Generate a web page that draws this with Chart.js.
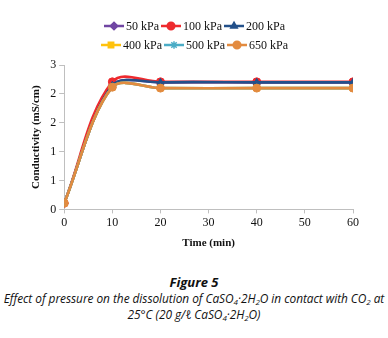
<!DOCTYPE html>
<html>
<head>
<meta charset="utf-8">
<script src="https://cdn.jsdelivr.net/npm/chart.js@4/dist/chart.umd.min.js"></script>
<style>
  body { margin: 0; background: #fff; width: 388px; height: 338px; overflow: hidden; position: relative; }
  #wrap { position: absolute; left: 0; top: 0; width: 388px; height: 262px; }
  #caption { position: absolute; left: 0; top: 274px; width: 388px; text-align: center;
             font-family: "Open Sans", "Noto Sans", sans-serif; font-style: italic; font-size: 11.9px;
             line-height: 16px; color: #111; letter-spacing: -0.05px; white-space: nowrap; }
  #caption b { font-size: 13px; letter-spacing: 0; }
  sub { font-size: 8px; vertical-align: -2px; line-height: 0; }
</style>
</head>
<body>
<div id="wrap"><canvas id="chart"></canvas></div>
<div id="caption">
  <b>Figure 5</b><br>
  Effect of pressure on the dissolution of CaSO<sub>4</sub>·2H<sub>2</sub>O in contact with CO<sub>2</sub> at<br>
  25°C (20 g/ℓ CaSO<sub>4</sub>·2H<sub>2</sub>O)
</div>
<script>
// time points (min)
const times = [0, 10, 20, 40, 60];

// conductivity (mS/cm) per pressure
const p50  = [0.13, 2.58, 2.64, 2.64, 2.64];
const p100 = [0.13, 2.65, 2.65, 2.65, 2.65];
const p200 = [0.13, 2.58, 2.64, 2.64, 2.64];
const p400 = [0.13, 2.54, 2.52, 2.52, 2.52];
const p500 = [0.13, 2.54, 2.52, 2.52, 2.52];
const p650 = [0.13, 2.54, 2.52, 2.52, 2.52];

const seriesNames = ['50 kPa', '100 kPa', '200 kPa', '400 kPa', '500 kPa', '650 kPa'];
const seriesValues = [p50, p100, p200, p400, p500, p650];

// y axis: Excel shows 0.6 steps with rounded labels
const yTicks = [0, 0.6, 1.2, 1.8, 2.4, 3];
const yTickLabels = ['0', '1', '1', '2', '2', '3'];
const xTicks = [0, 10, 20, 30, 40, 50, 60];

const colors  = ['#7046A3', '#EE2A2E', '#23508A', '#FFC20E', '#4BACC6', '#E38B3F'];
const markers = ['rectRot', 'circle', 'triangle', 'rect', 'star', 'circle'];
const tensions = [0.3, 0.36, 0.3, 0.32, 0.32, 0.32];

const serif = '"Liberation Serif", "Times New Roman", serif';

// legend drawn like the Excel one: short line with marker, two rows of three
const legendRows = [[0, 1, 2], [3, 4, 5]];
const excelLegend = {
    id: 'excelLegend',
    afterDraw(chart) {
        const ctx = chart.ctx;
        ctx.save();
        ctx.font = '12px ' + serif;
        ctx.textBaseline = 'middle';
        const lineLen = 20, gap = 2;
        legendRows.forEach((row, r) => {
            const y = 26 + r * 19;
            const widths = row.map(i => lineLen + gap + ctx.measureText(seriesNames[i]).width + gap);
            let x = 195.5 - widths.reduce((a, b) => a + b, 0) / 2;
            row.forEach((i, k) => {
                ctx.strokeStyle = colors[i];
                ctx.fillStyle = colors[i];
                ctx.lineWidth = 2.5;
                ctx.beginPath();
                ctx.moveTo(x, y);
                ctx.lineTo(x + lineLen, y);
                ctx.stroke();
                ctx.lineWidth = 1.5;
                Chart.helpers.drawPoint(ctx, { pointStyle: markers[i], radius: 3.8, borderWidth: 1.5, rotation: 0 }, x + lineLen / 2, y);
                ctx.fillStyle = '#111';
                ctx.fillText(seriesNames[i], x + lineLen + gap, y + 0.5);
                x += widths[k];
            });
        });
        ctx.restore();
    }
};

const datasets = seriesValues.map((vals, i) => ({
    label: seriesNames[i],
    data: times.map((t, j) => ({ x: t, y: vals[j] })),
    borderColor: colors[i],
    backgroundColor: colors[i],
    borderWidth: 2.6,
    pointStyle: markers[i],
    pointRadius: 4,
    pointBorderWidth: 1,
    tension: tensions[i],
    order: 6 - i
}));

const axisGrey = '#BFBFBF';

new Chart(document.getElementById('chart'), {
    type: 'line',
    data: { datasets: datasets },
    options: {
        responsive: true,
        maintainAspectRatio: false,
        animation: false,
        layout: { padding: { top: 65, left: 26, right: 35, bottom: 8 } },
        plugins: {
            legend: { display: false },
            tooltip: { enabled: false }
        },
        scales: {
            x: {
                type: 'linear',
                min: 0,
                max: 60,
                afterBuildTicks: axis => { axis.ticks = xTicks.map(v => ({ value: v })); },
                ticks: { color: '#111', font: { family: serif, size: 12 }, padding: 2, maxRotation: 0 },
                grid: { drawOnChartArea: false, drawTicks: true, tickLength: 4, color: axisGrey },
                border: { color: axisGrey, width: 1 },
                title: { display: true, text: 'Time (min)', color: '#111', font: { family: serif, size: 11, weight: 'bold' }, padding: { top: 5 } }
            },
            y: {
                min: 0,
                max: 3,
                afterBuildTicks: axis => { axis.ticks = yTicks.map(v => ({ value: v })); },
                ticks: {
                    color: '#111',
                    font: { family: serif, size: 12 },
                    padding: 3,
                    callback: (v, idx) => yTickLabels[idx]
                },
                grid: { drawOnChartArea: false, drawTicks: true, tickLength: 5, color: axisGrey },
                border: { color: axisGrey, width: 1 },
                title: { display: true, text: 'Conductivity (mS/cm)', color: '#111', font: { family: serif, size: 11, weight: 'bold' }, padding: { bottom: 4 } }
            }
        }
    },
    plugins: [excelLegend]
});
</script>
</body>
</html>
